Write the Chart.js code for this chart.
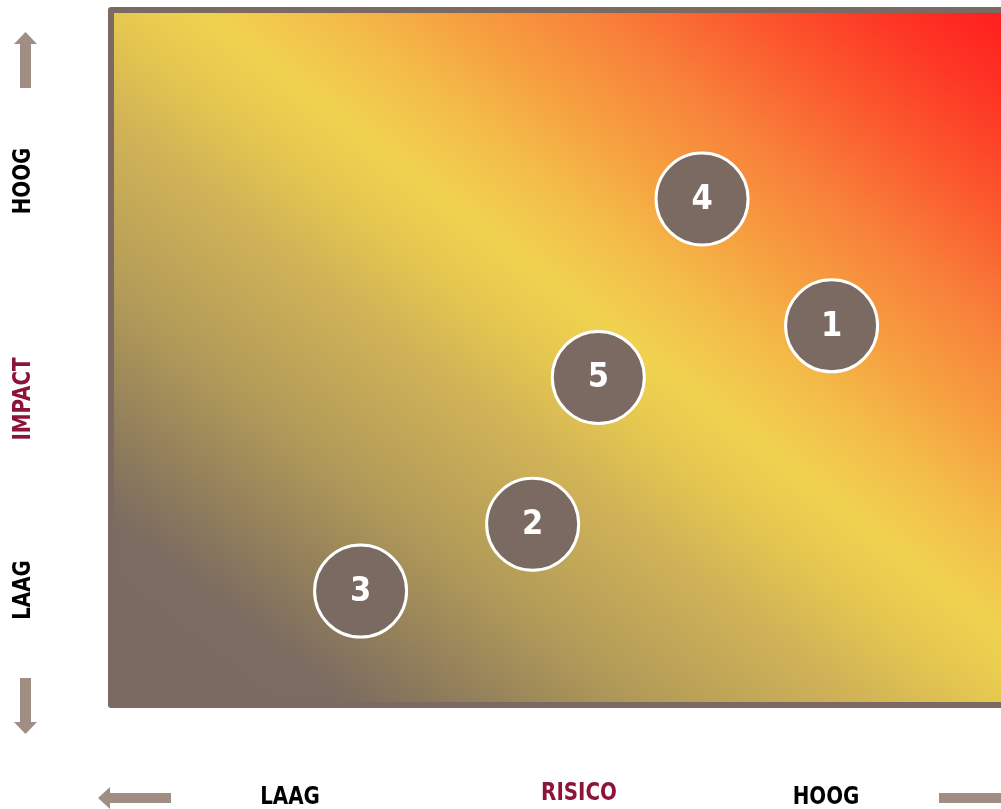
<!DOCTYPE html>
<html lang="nl">
<head>
<meta charset="utf-8">
<title>Risicomatrix</title>
<script src="https://cdn.jsdelivr.net/npm/chart.js@4/dist/chart.umd.min.js"></script>
<style>
  html, body { margin: 0; padding: 0; background: #ffffff; overflow: hidden; }
  #wrap { position: relative; width: 1001px; height: 809px; }
  canvas { display: block; }
</style>
</head>
<body>
<div id="wrap"><canvas id="matrix" width="1001" height="809"></canvas></div>
<script>
// Risk items: number label, risk (x) and impact (y) on a 0–10 scale
const itemLabels = ['1', '2', '3', '4', '5'];
const riskScores = [8.09, 4.72, 2.78, 6.63, 5.46];
const impactScores = [5.46, 2.58, 1.61, 7.30, 4.71];

// Axis wording
const xAxisTitle = 'RISICO';
const yAxisTitle = 'IMPACT';
const lowLabel = 'LAAG';
const highLabel = 'HOOG';

const BROWN = '#7a6a62';
const ARROW = '#a08d84';
const ACCENT = '#8c1438';
const FONT = '"DejaVu Sans Condensed", "DejaVu Sans", sans-serif';

// Heat gradient filling the plot area, bands parallel to the top-left/bottom-right diagonal
const heatBackground = {
  id: 'heatBackground',
  beforeDatasetsDraw(chart) {
    const { ctx, chartArea: a } = chart;
    const w = a.right - a.left, h = a.bottom - a.top;
    ctx.save();
    ctx.beginPath();
    ctx.rect(a.left, a.top, w, h);
    ctx.clip();
    // unit square: (0,0) bottom-left, (1,1) top-right
    ctx.translate(a.left, a.bottom);
    ctx.scale(w, -h);
    const g = ctx.createLinearGradient(0, 0, 1, 1);
    g.addColorStop(0.00, '#7a6a62');
    g.addColorStop(0.13, '#7b6b61');
    g.addColorStop(0.20, '#917e5b');
    g.addColorStop(0.30, '#b29b58');
    g.addColorStop(0.42, '#d0b257');
    g.addColorStop(0.50, '#e6c84f');
    g.addColorStop(0.55, '#f0d250');
    g.addColorStop(0.62, '#f3bd49');
    g.addColorStop(0.69, '#f6a040');
    g.addColorStop(0.77, '#f8803a');
    g.addColorStop(0.85, '#fb5a2e');
    g.addColorStop(0.93, '#fd3725');
    g.addColorStop(1.00, '#ff1e1e');
    ctx.fillStyle = g;
    ctx.fillRect(0, 0, 1, 1);
    ctx.restore();

    ctx.save();
    ctx.strokeStyle = BROWN;
    ctx.lineWidth = 6;
    ctx.lineJoin = 'round';
    ctx.strokeRect(a.left - 3, a.top - 3, w + 40, h + 6);
    ctx.restore();
  }
};

// Item numbers inside the bubbles
const bubbleNumbers = {
  id: 'bubbleNumbers',
  afterDatasetsDraw(chart) {
    const { ctx } = chart;
    const meta = chart.getDatasetMeta(0);
    ctx.save();
    ctx.fillStyle = '#ffffff';
    ctx.font = 'bold 34px ' + FONT;
    ctx.textAlign = 'center';
    ctx.textBaseline = 'middle';
    meta.data.forEach((el, i) => {
      ctx.fillText(itemLabels[i], el.x, el.y + 1);
    });
    ctx.restore();
  }
};

function arrow(ctx, x0, y0, x1, y1, shaft, head, headLen) {
  const ang = Math.atan2(y1 - y0, x1 - x0);
  const len = Math.hypot(x1 - x0, y1 - y0);
  ctx.save();
  ctx.translate(x0, y0);
  ctx.rotate(ang);
  ctx.beginPath();
  ctx.moveTo(0, -shaft / 2);
  ctx.lineTo(len - headLen, -shaft / 2);
  ctx.lineTo(len - headLen, -head / 2);
  ctx.lineTo(len, 0);
  ctx.lineTo(len - headLen, head / 2);
  ctx.lineTo(len - headLen, shaft / 2);
  ctx.lineTo(0, shaft / 2);
  ctx.closePath();
  ctx.fill();
  ctx.restore();
}

// Draws a word narrowed slightly, centred on (x, y), optionally rotated
function word(ctx, text, x, y, color, rot) {
  ctx.save();
  ctx.translate(x, y);
  if (rot) ctx.rotate(rot);
  ctx.scale(0.92, 1);
  ctx.fillStyle = color;
  ctx.fillText(text, 0, 0);
  ctx.restore();
}

// Axis words and direction arrows around the plot area
const axisDecor = {
  id: 'axisDecor',
  afterDraw(chart) {
    const { ctx } = chart;
    ctx.save();
    ctx.fillStyle = ARROW;
    arrow(ctx, 25.5, 88, 25.5, 32, 11, 23, 12);     // up
    arrow(ctx, 25.5, 678, 25.5, 734, 11, 23, 12);   // down
    arrow(ctx, 171, 798, 98, 798, 10, 22, 12);      // left
    arrow(ctx, 939, 798, 1040, 798, 10, 22, 12);    // right

    ctx.font = 'bold 24px ' + FONT;
    ctx.textAlign = 'center';
    ctx.textBaseline = 'middle';

    // vertical axis words
    word(ctx, highLabel, 24, 181, '#000000', -Math.PI / 2);
    word(ctx, yAxisTitle, 24, 399, ACCENT, -Math.PI / 2);
    word(ctx, lowLabel, 24, 590, '#000000', -Math.PI / 2);

    // horizontal axis words
    word(ctx, lowLabel, 290, 798, '#000000');
    word(ctx, highLabel, 826, 798, '#000000');
    word(ctx, xAxisTitle, 579, 794, ACCENT);
    ctx.restore();
  }
};

new Chart(document.getElementById('matrix'), {
  type: 'bubble',
  data: {
    datasets: [{
      label: 'Risico',
      data: riskScores.map((x, i) => ({ x: x, y: impactScores[i], r: 46 })),
      backgroundColor: BROWN,
      borderColor: '#ffffff',
      borderWidth: 3,
      hoverBorderWidth: 3,
      clip: false
    }]
  },
  options: {
    responsive: false,
    devicePixelRatio: 1,
    animation: false,
    layout: {
      autoPadding: false,
      padding: { left: 114, top: 13, right: 0, bottom: 107 }
    },
    scales: {
      x: { display: false, min: 0, max: 10 },
      y: { display: false, min: 0, max: 10 }
    },
    plugins: {
      legend: { display: false },
      tooltip: { enabled: false }
    }
  },
  plugins: [heatBackground, bubbleNumbers, axisDecor]
});
</script>
</body>
</html>
